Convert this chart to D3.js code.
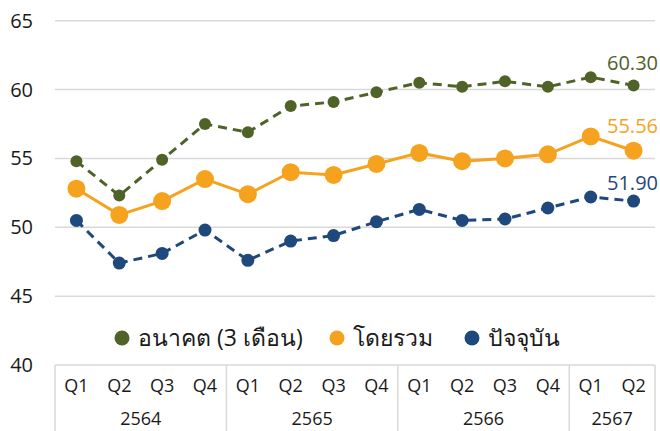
<!DOCTYPE html>
<html>
<head>
<meta charset="utf-8">
<script src="https://cdn.jsdelivr.net/npm/d3@7"></script>
<style>
  body { margin: 0; background: #fff; }
  text { font-family: "Open Sans", "Noto Sans", sans-serif; }
</style>
</head>
<body>
<div id="chart"></div>
<script>
// data
var quarters = ["Q1", "Q2", "Q3", "Q4", "Q1", "Q2", "Q3", "Q4", "Q1", "Q2", "Q3", "Q4", "Q1", "Q2"];
var years = ["2564", "2565", "2566", "2567"];
var quartersPerYear = [4, 4, 4, 2];
var future = [54.8, 52.3, 54.9, 57.5, 56.9, 58.8, 59.1, 59.8, 60.5, 60.2, 60.6, 60.2, 60.9, 60.30];
var overall = [52.8, 50.9, 51.9, 53.5, 52.4, 54.0, 53.8, 54.6, 55.4, 54.8, 55.0, 55.3, 56.6, 55.56];
var current = [50.5, 47.4, 48.1, 49.8, 47.6, 49.0, 49.4, 50.4, 51.3, 50.5, 50.6, 51.4, 52.2, 51.90];
var yTicks = [40, 45, 50, 55, 60, 65];
var seriesNames = ["อนาคต (3 เดือน)", "โดยรวม", "ปัจจุบัน"];

var svgWidth = 660, svgHeight = 431;
var plotLeft = 55, plotRight = 655, plotTop = 20.7, plotBottom = 365;

var svg = d3.select("#chart").append("svg")
    .attr("width", svgWidth)
    .attr("height", svgHeight);

var x = d3.scaleBand()
    .domain(d3.range(quarters.length))
    .range([plotLeft, plotRight]);
var y = d3.scaleLinear()
    .domain([40, 65])
    .range([plotBottom, plotTop]);

// gridlines
svg.append("g").selectAll("line")
    .data(yTicks)
    .join("line")
    .attr("x1", plotLeft).attr("x2", plotRight)
    .attr("y1", d => y(d)).attr("y2", d => y(d))
    .attr("stroke", "#d9d9d9")
    .attr("stroke-width", 1.5);

svg.append("g").selectAll("text")
    .data(yTicks)
    .join("text")
    .attr("x", 33)
    .attr("y", d => y(d) + 7)
    .attr("text-anchor", "end")
    .attr("font-size", 20)
    .attr("fill", "#1a1a1a")
    .text(d => d);

// category table below the axis
var bounds = [0];
quartersPerYear.forEach(n => bounds.push(bounds[bounds.length - 1] + n));
var bw = x.bandwidth();

svg.append("g").selectAll("line")
    .data(bounds)
    .join("line")
    .attr("x1", d => plotLeft + d * bw).attr("x2", d => plotLeft + d * bw)
    .attr("y1", plotBottom).attr("y2", svgHeight)
    .attr("stroke", "#d9d9d9")
    .attr("stroke-width", 1.5);

svg.append("g").selectAll("text")
    .data(quarters)
    .join("text")
    .attr("x", (d, i) => x(i) + bw / 2)
    .attr("y", 392)
    .attr("text-anchor", "middle")
    .attr("font-size", 18)
    .attr("fill", "#1a1a1a")
    .text(d => d);

svg.append("g").selectAll("text")
    .data(years)
    .join("text")
    .attr("x", (d, i) => plotLeft + (bounds[i] + bounds[i + 1]) / 2 * bw)
    .attr("y", 425)
    .attr("text-anchor", "middle")
    .attr("font-size", 18)
    .attr("fill", "#1a1a1a")
    .text(d => d);

// series
var series = [
    { values: future, color: "#4f6228", r: 6, dash: "9,6", label: "60.30", ly: 70 },
    { values: overall, color: "#f5a31f", r: 9, dash: null, label: "55.56", ly: 133 },
    { values: current, color: "#1f487c", r: 6.5, dash: "9,6", label: "51.90", ly: 190 }
];

var line = d3.line()
    .x((d, i) => x(i) + bw / 2)
    .y(d => y(d));

series.forEach(s => {
    var g = svg.append("g");
    g.append("path")
        .attr("d", line(s.values))
        .attr("fill", "none")
        .attr("stroke", s.color)
        .attr("stroke-width", 3)
        .attr("stroke-dasharray", s.dash);
    g.selectAll("circle")
        .data(s.values)
        .join("circle")
        .attr("cx", (d, i) => x(i) + bw / 2)
        .attr("cy", d => y(d))
        .attr("r", s.r)
        .attr("fill", s.color);
    g.append("text")
        .attr("x", 658)
        .attr("y", s.ly)
        .attr("text-anchor", "end")
        .attr("font-size", 20)
        .attr("fill", s.color)
        .text(s.label);
});

// legend
var legendX = [122, 337, 472];
var legend = svg.append("g").selectAll("g")
    .data(seriesNames)
    .join("g")
    .attr("transform", (d, i) => "translate(" + legendX[i] + ",338)");
legend.append("circle")
    .attr("r", 7.5)
    .attr("fill", (d, i) => series[i].color);
legend.append("text")
    .attr("x", 16)
    .attr("y", 8)
    .attr("font-size", 23)
    .attr("fill", "#1a1a1a")
    .text(d => d);
</script>
</body>
</html>
